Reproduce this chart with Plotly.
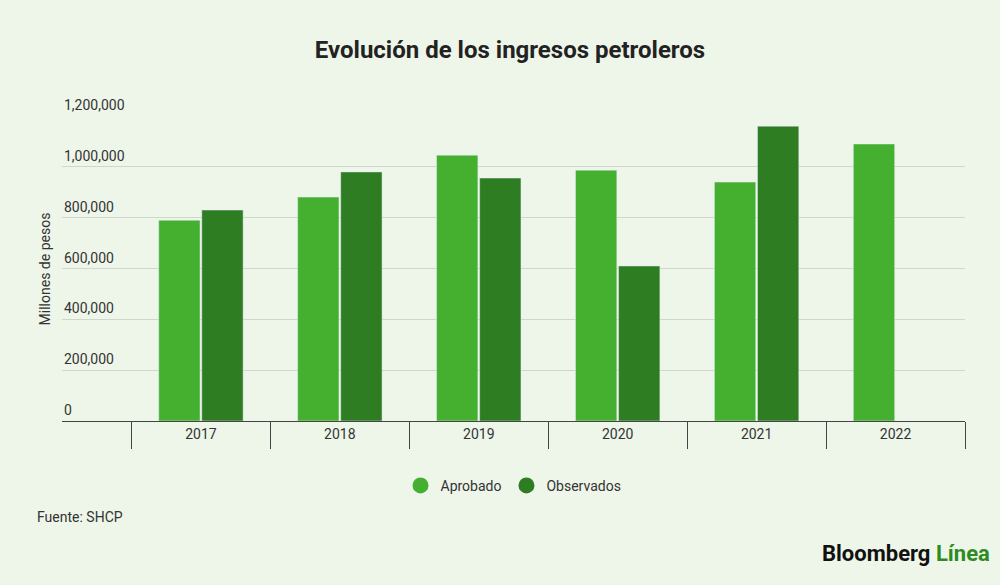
import plotly.graph_objects as go

years = ["2017", "2018", "2019", "2020", "2021", "2022"]
aprobado = [790000, 881000, 1046000, 987000, 940000, 1090000]
observados = [830000, 980000, 956000, 610000, 1160000, None]
y_ticks = [0, 200000, 400000, 600000, 800000, 1000000, 1200000]

light = "#45b02f"
dark = "#2e7d23"
bg = "#eef6ea"

fig = go.Figure()
fig.add_trace(go.Bar(x=years, y=aprobado, name="Aprobado", marker_color=light, showlegend=False))
fig.add_trace(go.Bar(x=years, y=observados, name="Observados", marker_color=dark, showlegend=False))
# legend entries with round markers
for name, col in [("Aprobado", light), ("Observados", dark)]:
    fig.add_trace(go.Scatter(x=[None], y=[None], mode="markers", name=name,
                             marker=dict(symbol="circle", size=16, color=col)))

# y tick labels sit above the gridlines, left aligned
for v in y_ticks:
    fig.add_annotation(x=0, xref="paper", y=v, yref="y", text=f"{v:,}", showarrow=False,
                       xanchor="left", yanchor="bottom", yshift=1,
                       font=dict(family="Roboto", size=14, color="#333"))

fig.add_annotation(x=-0.03, xref="paper", y=0.5, yref="paper", text="Millones de pesos",
                   textangle=-90, showarrow=False, font=dict(family="Roboto", size=14, color="#333"))
fig.add_annotation(x=-0.03, xref="paper", y=-0.315, yref="paper", text="Fuente: SHCP",
                   showarrow=False, xanchor="left", yanchor="middle",
                   font=dict(family="Roboto", size=14, color="#333"))
fig.add_annotation(x=1.03, xref="paper", y=-0.433, yref="paper",
                   text="<b>Bloomberg <span style='color:#2e8b1e'>Línea</span></b>",
                   showarrow=False, xanchor="right", yanchor="middle",
                   font=dict(family="Roboto", size=22, color="#111"))

fig.update_layout(
    width=1000, height=585,
    paper_bgcolor=bg, plot_bgcolor=bg,
    margin=dict(l=62, r=35, t=116, b=164),
    title=dict(text="<b>Evolución de los ingresos petroleros</b>", x=0.51, y=0.93,
               font=dict(family="Roboto", size=24, color="#222")),
    barmode="group", bargap=0.38, bargroupgap=0.04,
    legend=dict(orientation="h", x=0.5, xanchor="center", y=-0.16, yanchor="top",
                font=dict(family="Roboto", size=14, color="#333")),
    xaxis=dict(range=[-1, 5.5], tickson="boundaries", ticks="outside", ticklen=27,
               tickcolor="#444", showline=True, linecolor="#444", linewidth=1,
               tickfont=dict(family="Roboto", size=14, color="#333"), showgrid=False),
    yaxis=dict(range=[0, 1200000], tickvals=y_ticks, showticklabels=False,
               gridcolor="#cfd6cc", zeroline=False),
)

fig.write_html("out.html", config={"displayModeBar": False},
               post_script="document.body.style.margin='0';document.body.style.overflow='hidden';")
